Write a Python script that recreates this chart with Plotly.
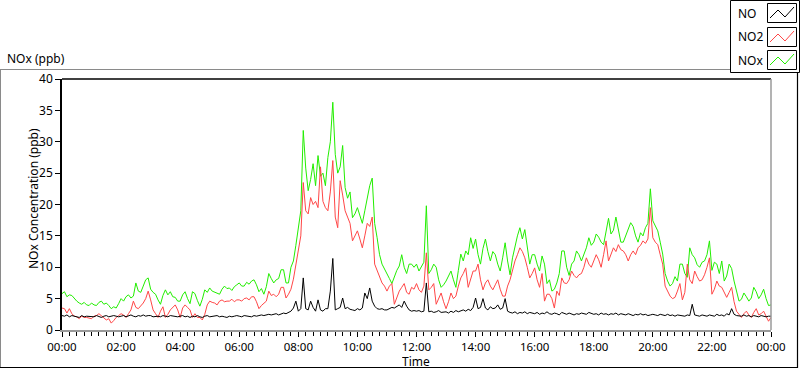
import plotly.graph_objects as go

# ---------------- data (5-minute samples, 00:00 .. 24:00) ----------------
minutes = list(range(0, 1441, 5))

nox = [
    5.8, 6.1, 5.3, 5.6, 5.5, 5.0, 4.6, 4.3, 4.1, 4.4, 4.0, 3.9,
    4.3, 4.0, 3.9, 4.4, 4.6, 4.1, 4.3, 3.9, 3.4, 3.7, 3.5, 4.2,
    5.0, 4.6, 5.3, 5.6, 5.1, 5.4, 7.5, 6.2, 6.0, 7.0, 8.0, 8.3,
    6.5, 6.0, 5.7, 4.8, 4.1, 5.5, 6.4, 5.6, 6.1, 5.3, 5.2, 4.6,
    4.6, 5.6, 6.1, 5.0, 4.2, 6.1, 5.8, 4.7, 3.8, 4.9, 6.4, 6.0,
    6.7, 6.2, 6.0, 5.9, 5.7, 6.5, 7.0, 6.6, 6.7, 6.3, 6.9, 7.2,
    7.5, 7.0, 7.0, 7.6, 7.3, 7.8, 8.0, 7.2, 6.1, 6.6, 5.7, 6.9,
    9.0, 8.2, 7.5, 8.0, 8.2, 9.6, 9.6, 7.5, 7.5, 10.0, 11.0, 13.5,
    16.0, 19.0, 31.8, 25.8, 22.2, 24.0, 26.5, 23.0, 27.8, 24.5, 25.0, 23.0,
    27.5, 30.0, 36.3, 28.0, 25.0, 26.0, 29.4, 22.7, 21.0, 22.0, 17.9, 18.5,
    19.5, 18.2, 17.0, 19.0, 21.0, 23.0, 24.2, 17.0, 14.7, 12.0, 10.5, 9.8,
    9.0, 8.2, 7.4, 8.5, 9.5, 10.2, 12.0, 10.0, 9.0, 10.5, 10.5, 10.0,
    10.5, 9.4, 10.0, 10.8, 19.8, 9.0, 9.6, 10.5, 10.0, 8.0, 6.8, 7.2,
    7.8, 8.5, 9.4, 8.0, 6.8, 9.5, 12.1, 11.0, 12.6, 12.0, 14.7, 13.0,
    14.5, 12.0, 10.5, 13.0, 14.5, 12.5, 11.0, 12.5, 12.0, 10.5, 9.4, 11.5,
    13.9, 11.0, 8.8, 11.5, 13.5, 15.0, 16.3, 14.5, 16.0, 13.0, 10.5, 12.0,
    12.0, 10.5, 9.4, 11.8, 10.5, 7.4, 8.0, 6.2, 6.5, 7.5, 9.0, 12.6,
    12.6, 10.0, 8.7, 10.5, 11.0, 12.6, 12.0, 11.0, 12.0, 13.1, 14.7, 13.5,
    14.0, 15.3, 14.8, 14.0, 13.6, 16.0, 17.8, 15.3, 15.9, 18.0, 16.0, 14.0,
    14.0, 15.0, 16.2, 17.1, 16.5, 15.0, 14.0, 15.5, 15.0, 16.3, 17.0, 22.5,
    17.4, 16.5, 15.8, 14.0, 12.1, 9.0, 7.8, 7.0, 7.4, 8.5, 7.8, 10.5,
    10.5, 9.0, 8.4, 13.1, 12.0, 11.5, 10.4, 10.0, 10.8, 11.0, 12.0, 14.2,
    9.5, 10.8, 10.5, 9.0, 11.0, 7.8, 8.6, 10.5, 9.8, 7.8, 6.0, 4.6,
    4.9, 5.9, 5.3, 4.6, 5.1, 6.8, 6.1, 5.0, 5.6, 6.5, 5.0, 3.9,
    4.0,
]

no2 = [
    3.5, 3.4, 2.7, 3.4, 2.6, 2.2, 2.1, 1.8, 2.2, 2.0, 2.0, 1.9,
    1.8, 2.2, 2.3, 2.6, 2.3, 1.9, 1.6, 1.8, 1.1, 1.5, 2.0, 2.3,
    2.6, 2.4, 2.0, 2.6, 3.2, 4.6, 3.6, 3.4, 3.8, 4.3, 5.0, 6.2,
    4.8, 3.2, 2.6, 2.0, 3.0, 3.7, 2.0, 2.5, 3.2, 3.6, 4.0, 3.2,
    2.0, 3.5, 4.0, 3.6, 3.2, 2.0, 2.6, 2.0, 2.0, 1.6, 2.5, 4.0,
    4.6, 4.4, 4.3, 4.0, 4.6, 4.8, 4.5, 4.6, 4.6, 4.9, 4.5, 4.8,
    4.8, 4.6, 5.0, 5.1, 4.8, 5.3, 5.3, 4.5, 3.4, 3.9, 4.3, 4.6,
    6.2, 5.5, 5.7, 5.3, 5.7, 6.8, 6.8, 5.1, 5.7, 6.5, 8.1, 10.5,
    12.6, 15.0, 23.5, 19.0, 18.5, 21.1, 20.0, 20.5, 19.5, 26.0, 20.5, 19.5,
    19.0, 22.0, 27.0, 18.0, 16.3, 23.8, 21.5, 19.0, 18.0, 17.0, 14.2, 15.0,
    15.8, 14.5, 13.1, 15.0, 17.0, 16.5, 18.0, 10.5, 9.5, 8.3, 7.5, 7.0,
    6.2, 7.0, 7.4, 4.1, 5.2, 6.2, 6.8, 7.4, 6.0, 5.7, 6.8, 6.5,
    7.4, 6.4, 6.0, 7.0, 12.3, 6.4, 6.8, 7.4, 4.1, 5.0, 5.9, 4.5,
    3.4, 4.5, 5.9, 5.0, 5.4, 7.0, 8.3, 9.0, 9.9, 6.8, 8.0, 9.4,
    9.4, 10.5, 8.0, 6.4, 7.5, 8.0, 7.0, 6.4, 7.2, 8.0, 6.5, 5.4,
    5.4, 7.0, 8.0, 9.5, 11.0, 12.0, 13.1, 12.5, 11.5, 10.0, 8.3, 9.0,
    9.9, 8.0, 6.8, 9.0, 4.6, 5.7, 5.7, 5.0, 3.5, 6.2, 5.5, 8.3,
    7.5, 7.4, 8.0, 9.4, 8.7, 8.3, 8.8, 9.0, 10.0, 11.5, 10.5, 10.0,
    11.0, 12.0, 11.2, 10.0, 12.0, 14.2, 11.0, 12.0, 13.1, 12.5, 13.6, 12.8,
    12.6, 12.0, 11.0, 12.0, 12.6, 12.0, 13.1, 13.5, 14.2, 13.8, 14.5, 19.5,
    14.7, 14.0, 13.6, 12.0, 10.5, 7.0, 6.2, 5.4, 5.0, 5.2, 6.2, 7.4,
    4.8, 6.0, 10.5, 8.0, 7.4, 9.4, 8.5, 7.8, 8.0, 8.8, 10.0, 11.5,
    5.7, 6.5, 7.8, 7.0, 6.8, 6.0, 5.2, 6.0, 6.8, 4.5, 3.0, 2.5,
    2.0, 2.6, 3.0, 2.4, 2.0, 2.8, 3.4, 2.4, 2.6, 3.0, 2.2, 1.4,
    2.0,
]

no = [
    2.3, 2.2, 2.4, 2.1, 2.3, 2.2, 2.2, 2.0, 2.3, 2.1, 2.2, 2.2,
    2.2, 2.1, 2.3, 2.2, 2.0, 2.2, 2.3, 2.1, 2.2, 2.3, 2.2, 2.1,
    2.2, 2.3, 2.1, 2.2, 2.4, 2.2, 2.1, 2.3, 2.2, 2.4, 2.2, 2.3,
    2.3, 2.1, 2.2, 2.2, 2.1, 2.3, 2.2, 2.1, 2.3, 2.2, 2.2, 2.1,
    2.2, 2.3, 2.1, 2.2, 2.0, 2.2, 2.1, 2.3, 2.1, 2.0, 2.2, 2.3,
    2.1, 2.2, 2.2, 2.3, 2.1, 2.2, 2.1, 2.0, 2.2, 2.1, 2.2, 2.3,
    2.2, 2.1, 2.3, 2.2, 2.2, 2.1, 2.3, 2.2, 2.3, 2.4, 2.3, 2.4,
    2.5, 2.4, 2.5, 2.6, 2.4, 2.6, 2.7, 2.6, 2.8, 3.0, 3.5, 4.6,
    3.0, 3.4, 8.3, 3.4, 3.2, 4.6, 3.6, 3.0, 4.8, 3.2, 3.0, 3.4,
    3.4, 6.2, 11.4, 3.2, 3.4, 3.6, 5.1, 3.4, 3.6, 3.3, 3.2, 3.1,
    3.4, 3.2, 3.5, 5.9, 5.0, 6.7, 4.6, 3.8, 3.4, 3.3, 3.4, 3.2,
    3.2, 3.4, 3.6, 3.5, 3.8, 4.0, 3.6, 4.6, 3.8, 3.2, 3.0, 3.1,
    3.0, 3.1, 2.9, 3.0, 7.5, 2.9, 3.0, 2.8, 2.9, 3.1, 2.8, 2.9,
    2.9, 2.7, 3.0, 2.8, 3.1, 2.9, 3.0, 3.2, 3.0, 3.3, 3.1, 3.6,
    5.1, 3.4, 3.6, 5.0, 3.5, 3.2, 3.7, 3.4, 3.5, 4.0, 3.3, 3.5,
    5.0, 3.0, 2.8, 2.7, 2.9, 2.6, 2.8, 2.7, 2.9, 2.6, 2.8, 2.7,
    2.6, 2.8, 2.5, 2.7, 2.6, 2.9, 2.6, 2.5, 2.7, 2.6, 2.4, 2.8,
    2.6, 2.5, 2.7, 2.6, 2.4, 2.6, 2.5, 2.7, 2.6, 2.5, 2.8, 2.6,
    2.5, 2.6, 2.4, 2.7, 2.5, 2.6, 2.4, 2.6, 2.5, 2.7, 2.4, 2.6,
    2.5, 2.4, 2.6, 2.5, 2.3, 2.5, 2.4, 2.6, 2.4, 2.5, 2.3, 2.4,
    2.5, 2.4, 2.3, 2.5, 2.4, 2.3, 2.5, 2.3, 2.4, 2.2, 2.4, 2.3,
    2.3, 2.2, 2.4, 2.3, 4.1, 2.4, 2.3, 2.2, 2.4, 2.3, 2.2, 2.4,
    2.3, 2.2, 2.5, 2.3, 2.4, 2.2, 2.6, 2.4, 3.4, 2.5, 2.3, 2.2,
    2.2, 2.4, 2.2, 2.3, 2.1, 2.3, 2.2, 2.1, 2.3, 2.2, 2.1, 2.2,
    2.2,
]

tick_minutes = [0, 120, 240, 360, 480, 600, 720, 840, 960, 1080, 1200, 1320, 1440]
tick_labels = ["00:00", "02:00", "04:00", "06:00", "08:00", "10:00", "12:00",
               "14:00", "16:00", "18:00", "20:00", "22:00", "00:00"]
y_ticks = [0, 5, 10, 15, 20, 25, 30, 35, 40]

series_names = ["NO", "NO2", "NOx"]
series_colors = ["#000000", "#ff4646", "#22ee00"]

# ---------------- geometry (pixels) ----------------
W, H = 800, 369
L, R, T, B = 62, 771, 79, 330
FONT = "Noto Sans"


def px(xp):
    return (xp - L) / (R - L)


def py(yp):
    return (B - yp) / (B - T)


fig = go.Figure()
for name, vals, col in [("NOx", nox, series_colors[2]),
                        ("NO2", no2, series_colors[1]),
                        ("NO", no, series_colors[0])]:
    fig.add_trace(go.Scatter(x=minutes, y=vals, mode="lines", name=name,
                             line=dict(color=col, width=1), showlegend=False,
                             hoverinfo="skip"))

shapes = []
# plot area frame: top/left black, right/bottom gray
shapes.append(dict(type="line", xref="paper", yref="paper", x0=0, x1=1, y0=1, y1=1,
                   line=dict(color="#000000", width=1.5)))
shapes.append(dict(type="line", xref="paper", yref="paper", x0=1, x1=1, y0=0, y1=1,
                   line=dict(color="#9a9a9a", width=1.5)))
# outer panel border
shapes.append(dict(type="line", xref="paper", yref="paper", x0=px(0), x1=px(730),
                   y0=py(69.5), y1=py(69.5), line=dict(color="#8a8a8a", width=1)))
shapes.append(dict(type="line", xref="paper", yref="paper", x0=px(0.5), x1=px(0.5),
                   y0=py(69.5), y1=py(368), line=dict(color="#8a8a8a", width=1)))
shapes.append(dict(type="line", xref="paper", yref="paper", x0=px(0), x1=px(798),
                   y0=py(367.5), y1=py(367.5), line=dict(color="#000000", width=1.2)))
shapes.append(dict(type="line", xref="paper", yref="paper", x0=px(797.5), x1=px(797.5),
                   y0=py(72), y1=py(368), line=dict(color="#000000", width=1.2)))
# legend box
shapes.append(dict(type="rect", xref="paper", yref="paper", x0=px(730.5), x1=px(799.5),
                   y0=py(72.5), y1=py(0.5), line=dict(color="#000000", width=1),
                   fillcolor="#ffffff", layer="above"))

annotations = []
legend_rows = [13, 37, 60]
for name, col, yc in zip(series_names, series_colors, legend_rows):
    annotations.append(dict(xref="paper", yref="paper", x=px(736), y=py(yc),
                            xanchor="left", yanchor="middle", showarrow=False,
                            text=name, font=dict(family=FONT, size=12, color="#000000")))
    shapes.append(dict(type="rect", xref="paper", yref="paper",
                       x0=px(767.5), x1=px(796.5), y0=py(yc + 9.5), y1=py(yc - 9.5),
                       line=dict(color="#000000", width=1), fillcolor="#ffffff",
                       layer="above"))
    pts = [(770, yc + 5), (778, yc - 3), (785, yc + 4), (794, yc - 6)]
    path = "M " + " L ".join(f"{px(a)},{py(b)}" for a, b in pts)
    shapes.append(dict(type="path", xref="paper", yref="paper", path=path,
                       line=dict(color=col, width=1), layer="above"))

annotations.append(dict(xref="paper", yref="paper", x=px(5), y=py(58), xanchor="left",
                        yanchor="middle", showarrow=False, text="NOx (ppb)",
                        font=dict(family=FONT, size=12, color="#000000")))
annotations.append(dict(xref="paper", yref="paper", x=px(33), y=py(199), xanchor="center",
                        yanchor="middle", showarrow=False, textangle=-90,
                        text="NOx Concentration (ppb)",
                        font=dict(family=FONT, size=12, color="#000000")))
annotations.append(dict(xref="paper", yref="paper", x=px(416), y=py(361), xanchor="center",
                        yanchor="middle", showarrow=False, text="Time", height=12,
                        font=dict(family=FONT, size=12, color="#000000")))

fig.update_layout(
    width=W, height=H,
    margin=dict(l=L, r=W - R, t=T, b=H - B),
    paper_bgcolor="#ffffff", plot_bgcolor="#ffffff",
    font=dict(family=FONT, size=12, color="#000000"),
    shapes=shapes, annotations=annotations, showlegend=False,
    xaxis=dict(range=[0, 1440], tickmode="array", tickvals=tick_minutes,
               ticktext=tick_labels, ticks="outside", ticklen=5, tickcolor="#000000",
               showgrid=False, zeroline=False, showline=True, linecolor="#9a9a9a",
               linewidth=1.5,
               minor=dict(tickmode="linear", tick0=0, dtick=15, ticks="outside",
                          ticklen=4, tickcolor="#000000", showgrid=False),
               tickfont=dict(family=FONT, size=11.5, color="#000000")),
    yaxis=dict(range=[0, 40], tickmode="array", tickvals=y_ticks, ticks="outside",
               ticklen=5, tickcolor="#000000", showgrid=False, zeroline=False,
               showline=True, linecolor="#000000", linewidth=1.5,
               tickfont=dict(family=FONT, size=12, color="#000000")),
)

fig.write_html("out.html", config={"displayModeBar": False},
               post_script="document.body.style.margin='0';document.body.style.padding='0';")
